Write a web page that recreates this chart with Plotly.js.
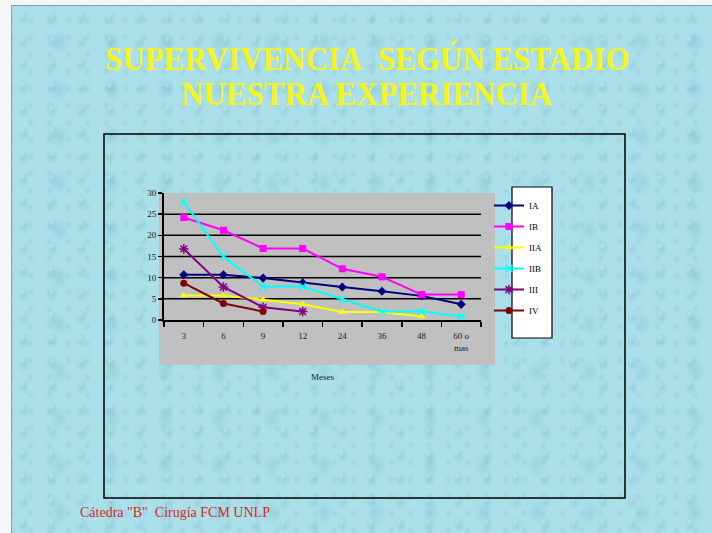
<!DOCTYPE html>
<html>
<head>
<meta charset="utf-8">
<script src="https://cdn.plot.ly/plotly-3.0.1.min.js"></script>
<style>
  html, body { margin:0; padding:0; width:712px; height:533px; overflow:hidden; background:#f4f8f8; }
  #bg {
    position:absolute; left:11px; top:5px; width:701px; height:528px;
    border-left:1px solid #8a9ea3; border-top:1px solid #8a9ea3;
    background-color:#abdfe9;
    background-image:
      radial-gradient(ellipse 6px 8px at 40% 55%, rgba(118,188,206,0.45) 0, rgba(118,188,206,0) 100%),
      radial-gradient(ellipse 3px 4px at 36% 45%, rgba(232,249,252,0.6) 0, rgba(232,249,252,0) 100%),
      radial-gradient(ellipse 4px 5px at 50% 50%, rgba(128,194,210,0.35) 0, rgba(128,194,210,0) 100%),
      radial-gradient(ellipse 9px 12px at 50% 50%, rgba(125,192,210,0.4) 0, rgba(125,192,210,0) 100%);
    background-size: 29px 23px, 29px 23px, 19px 17px, 53px 47px;
    background-position: 0 0, 0 0, 9px 6px, 21px 13px;
  }
  #chart { position:absolute; left:0; top:0; width:712px; height:533px; }
  .stretch { transform-box: fill-box; transform-origin: center; transform: scaleY(1.12); }
</style>
</head>
<body>
<div id="bg"></div>
<div id="chart"></div>
<script>
// ---- data ----
const categories = ["3", "6", "9", "12", "24", "36", "48", "60 o<br>mas"];
const seriesNames = ["IA", "IB", "IIA", "IIB", "III", "IV"];
const IA  = [10.7, 10.7, 9.9, 8.8, 7.8, 6.8, 5.7, 3.7];
const IB  = [24.2, 21.2, 16.9, 16.9, 12.1, 10.2, 6.0, 6.0];
const IIA = [5.8, 5.8, 4.8, 3.7, 1.9, 1.9, 0.8, null];
const IIB = [27.9, 14.9, 7.9, 7.9, 4.9, 2.0, 2.0, 0.8];
const III = [16.8, 7.8, 3.0, 2.0, null, null, null, null];
const IV  = [8.7, 3.9, 2.0, null, null, null, null, null];
const yTicks = [0, 5, 10, 15, 20, 25, 30];
const gridVals = [5, 10, 15, 20, 25];
const titleLine1 = "SUPERVIVENCIA&nbsp;&nbsp;SEGÚN ESTADIO";
const titleLine2 = "NUESTRA EXPERIENCIA";
const xTitle = "Meses";
const footer = "Cátedra \"B\"&nbsp;&nbsp;Cirugía FCM UNLP";

// ---- styles ----
const colors  = ["#000080", "#ff00ff", "#ffff00", "#00ffff", "#800080", "#800000"];
const symbols = ["diamond", "square", "triangle-up", "x-thin-open", "asterisk-open", "circle"];
const sizes   = [7, 7, 7, 7, 8, 7];
const values  = [IA, IB, IIA, IIB, III, IV];

// plot area in pixels
const L = 164, R = 481, T = 193, B = 320;
const px = v => (v - L) / (R - L);
const py = v => (B - v) / (B - T);

const traces = values.map((vals, i) => ({
  type: "scatter", mode: "lines+markers",
  x: categories, y: vals, name: seriesNames[i],
  legendgroup: "g" + i,
  line: { color: colors[i], width: 2 },
  marker: { color: colors[i], symbol: symbols[i], size: sizes[i],
            line: { color: colors[i], width: (symbols[i].indexOf("open") >= 0 ? 1.5 : 0) } },
  connectgaps: false
}));

const serif = "Liberation Serif, Times New Roman, serif";

const shapes = [
  // outer frame
  { type: "rect", xref: "paper", yref: "paper", x0: px(104), x1: px(625), y0: py(498), y1: py(134),
    line: { color: "#000", width: 1.5 }, fillcolor: "rgba(0,0,0,0)", layer: "below" },
  // gray chart area
  { type: "rect", xref: "paper", yref: "paper", x0: px(159), x1: px(495), y0: py(365), y1: py(193),
    line: { width: 0 }, fillcolor: "#c0c0c0", layer: "below" },
  // legend box
  { type: "rect", xref: "paper", yref: "paper", x0: px(512), x1: px(552), y0: py(338), y1: py(187),
    line: { color: "#000", width: 1.2 }, fillcolor: "#ffffff", layer: "below" }
].concat(gridVals.map(g => ({
  type: "line", xref: "paper", yref: "y", x0: 0, x1: 1, y0: g, y1: g,
  line: { color: "#000", width: 1.5 }, layer: "below"
})));

const layout = {
  width: 712, height: 533,
  margin: { l: L, r: 712 - R, t: T, b: 533 - B },
  paper_bgcolor: "rgba(0,0,0,0)",
  plot_bgcolor: "rgba(0,0,0,0)",
  showlegend: true,
  legend: {
    x: px(489), xanchor: "left", y: py(191), yanchor: "top",
    bgcolor: "rgba(0,0,0,0)", borderwidth: 0,
    font: { family: serif, size: 9, color: "#000" },
    itemwidth: 30, tracegroupgap: 2, traceorder: "grouped"
  },
  xaxis: {
    type: "category", range: [-0.5, 7.5], fixedrange: true,
    showgrid: false, zeroline: false,
    showline: true, linecolor: "#000", linewidth: 2,
    ticks: "outside", ticklen: 5, tickwidth: 1.5, tickcolor: "#000",
    tickson: "boundaries", ticklabelstandoff: 6,
    tickfont: { family: serif, size: 9, color: "#222" },
    title: { text: xTitle, font: { family: serif, size: 9, color: "#222" }, standoff: 22 }
  },
  yaxis: {
    range: [0, 30], tickvals: yTicks, fixedrange: true,
    showgrid: false, zeroline: false,
    showline: true, linecolor: "#000", linewidth: 2,
    ticks: "outside", ticklen: 4, tickwidth: 1.5, tickcolor: "#000",
    tickfont: { family: serif, size: 9, color: "#222" }
  },
  shapes: shapes,
  annotations: [
    { text: "<b>" + titleLine1 + "</b>", xref: "paper", yref: "paper", x: px(367), y: py(58),
      xanchor: "center", yanchor: "middle", showarrow: false,
      font: { family: serif, size: 31, color: "#f4f41e" } },
    { text: "<b>" + titleLine2 + "</b>", xref: "paper", yref: "paper", x: px(367), y: py(93),
      xanchor: "center", yanchor: "middle", showarrow: false,
      font: { family: serif, size: 31, color: "#f4f41e" } },
    { text: footer, xref: "paper", yref: "paper", x: px(78), y: py(512),
      xanchor: "left", yanchor: "middle", showarrow: false,
      font: { family: serif, size: 14, color: "#d42828" } }
  ]
};

Plotly.newPlot("chart", traces, layout, { displayModeBar: false, staticPlot: true }).then(gd => {
  const texts = gd.querySelectorAll(".annotation-text");
  for (let k = 0; k < 2 && k < texts.length; k++) texts[k].classList.add("stretch");
});
</script>
</body>
</html>
